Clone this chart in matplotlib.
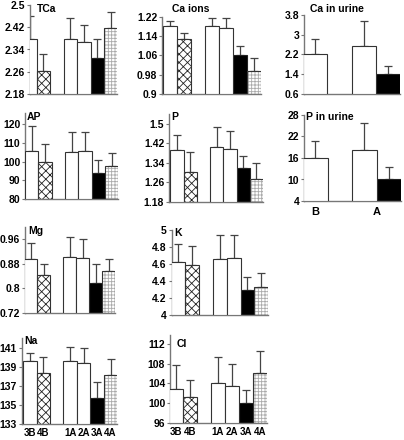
import matplotlib.pyplot as plt
import numpy as np

plt.rcParams['font.family'] = ['Liberation Sans', 'DejaVu Sans']
plt.rcParams['font.weight'] = 'bold'
plt.rcParams['hatch.linewidth'] = 0.6

# Données (moyenne, erreur standard)
groups = ['3B', '4B', '1A', '2A', '3A', '4A']
pos6 = [0, 1, 3, 4, 5, 6]

tca_mean = [2.378, 2.264, 2.377, 2.368, 2.308, 2.416]
tca_se = [0.082, 0.059, 0.077, 0.060, 0.069, 0.058]
caion_mean = [1.183, 1.130, 1.181, 1.176, 1.064, 0.995]
caion_se = [0.020, 0.024, 0.036, 0.041, 0.037, 0.055]
ap_mean = [105.7, 100.0, 105.2, 105.7, 94.1, 97.7]
ap_se = [13.2, 9.5, 10.7, 10.2, 6.6, 6.9]
p_mean = [1.391, 1.304, 1.403, 1.395, 1.318, 1.275]
p_se = [0.062, 0.082, 0.082, 0.077, 0.050, 0.066]
mg_mean = [0.895, 0.845, 0.902, 0.900, 0.817, 0.856]
mg_se = [0.054, 0.034, 0.067, 0.062, 0.062, 0.039]
k_mean = [4.62, 4.59, 4.66, 4.67, 4.29, 4.33]
k_se = [0.22, 0.22, 0.28, 0.27, 0.16, 0.16]
na_mean = [139.6, 138.4, 139.6, 139.4, 135.7, 138.2]
na_se = [0.9, 1.7, 1.5, 1.6, 1.7, 1.6]
cl_mean = [102.9, 101.3, 104.1, 103.5, 100.1, 106.1]
cl_se = [4.8, 3.4, 5.3, 4.5, 2.5, 4.4]

urine_groups = ['B', 'A']
urine_pos = [0, 2, 3]
ca_urine_mean = [2.2, 2.54, 1.39]
ca_urine_se = [0.63, 1.01, 0.35]
p_urine_mean = [16.0, 18.15, 10.0]
p_urine_se = [4.8, 7.75, 3.5]

styles6 = ['white', 'cross', 'white', 'white', 'black', 'dots']
styles3 = ['white', 'white', 'black']

W, H = 404, 440
fig = plt.figure(figsize=(W / 100, H / 100), dpi=100)


def make_ax(l, t, r, b):
    return fig.add_axes([l / W, 1 - b / H, (r - l) / W, (b - t) / H])


def draw(ax, pos, means, ses, styles, ylim, yticks, yticklabels, xlim):
    for x, m, s, st in zip(pos, means, ses, styles):
        if st == 'black':
            ax.bar(x, m - ylim[0], bottom=ylim[0], width=1, color='black',
                   edgecolor='#222', lw=0.8, zorder=2)
        else:
            if st == 'cross':
                ax.bar(x, m - ylim[0], bottom=ylim[0], width=1, color='white',
                       edgecolor='#222', hatch='xxxx', lw=0, zorder=2)
            elif st == 'dots':
                ax.bar(x, m - ylim[0], bottom=ylim[0], width=1, color='white',
                       edgecolor='#aaa', hatch='+++++', lw=0, zorder=2)
            ax.bar(x, m - ylim[0], bottom=ylim[0], width=1, fill=(st == 'white'),
                   facecolor='white', edgecolor='#333', lw=0.8, zorder=3)
        ax.errorbar(x, m, yerr=[[0], [s]], color='#444', lw=0.9, capsize=2.8,
                    capthick=0.9, zorder=1)
    ax.set_ylim(ylim)
    ax.set_xlim(xlim)
    ax.set_yticks(yticks)
    ax.set_yticklabels(yticklabels, fontsize=7.5, fontweight='bold')
    for sp in ['top', 'right']:
        ax.spines[sp].set_visible(False)
    ax.spines['left'].set_color('#777')
    ax.spines['left'].set_linewidth(1.0)
    ax.spines['bottom'].set_color('#777')
    ax.spines['bottom'].set_linewidth(1.0)
    ax.tick_params(axis='y', length=2.5, width=0.8, color='#777', pad=1)
    ax.tick_params(axis='x', length=0, pad=3)
    ax.set_xticks([])
    ax.patch.set_alpha(0)


def title(x, y, s):
    fig.text(x / W, 1 - y / H, s, fontsize=7.5, fontweight='bold', va='top', ha='left')


# Rangée 1
ax = make_ax(30, 5, 117.5, 94)
draw(ax, pos6, tca_mean, tca_se, styles6, (2.18, 2.5),
     [2.18, 2.26, 2.34, 2.42, 2.5], ['2.18', '2.26', '2.34', '2.42', '2.5'], (0, 6.5))
title(37, 4, 'TCa')

ax = make_ax(162, 17, 261, 94)
draw(ax, pos6, caion_mean, caion_se, styles6, (0.9, 1.22),
     [0.9, 0.98, 1.06, 1.14, 1.22], ['0.9', '0.98', '1.06', '1.14', '1.22'], (-0.6, 6.5))
title(172, 4, 'Ca ions')

ax = make_ax(304, 15, 400, 94)
draw(ax, urine_pos, ca_urine_mean, ca_urine_se, styles3, (0.6, 3.8),
     [0.6, 1.4, 2.2, 3.0, 3.8], ['0.6', '1.4', '2.2', '3', '3.8'], (-0.46, 3.5))
title(310, 4, 'Ca in urine')

# Rangée 2
ax = make_ax(25, 113, 118.3, 199)
draw(ax, pos6, ap_mean, ap_se, styles6, (80, 126),
     [80, 90, 100, 110, 120], ['80', '90', '100', '110', '120'], (-0.49, 6.5))
title(27, 112, 'AP')

ax = make_ax(169, 114, 263, 202)
draw(ax, pos6, p_mean, p_se, styles6, (1.18, 1.54),
     [1.18, 1.26, 1.34, 1.42, 1.5], ['1.18', '1.26', '1.34', '1.42', '1.5'], (-0.6, 6.5))
title(171, 112, 'P')

ax = make_ax(304, 115, 401, 201)
draw(ax, urine_pos, p_urine_mean, p_urine_se, styles3, (4, 28),
     [4, 10, 16, 22, 28], ['4', '10', '16', '22', '28'], (-0.46, 3.5))
ax.set_xticks([0, 2.5])
ax.set_xticklabels(urine_groups, fontsize=8, fontweight='bold')
ax.tick_params(axis='x', pad=4)
title(306, 112, 'P in urine')

# Rangée 3
ax = make_ax(25, 227, 115, 313)
draw(ax, pos6, mg_mean, mg_se, styles6, (0.72, 1.0),
     [0.72, 0.8, 0.88, 0.96], ['0.72', '0.8', '0.88', '0.96'], (-0.45, 6.5))
title(28, 226, 'Mg')

ax = make_ax(171.7, 230, 268.3, 315)
draw(ax, pos6, k_mean, k_se, styles6, (4, 5),
     [4, 4.2, 4.4, 4.6, 4.8, 5], ['4', '4.2', '4.4', '4.6', '4.8', '5'], (-0.46, 6.5))
title(174, 228, 'K')

# Rangée 4
ax = make_ax(21.7, 338, 117.3, 424)
draw(ax, pos6, na_mean, na_se, styles6, (133, 142.05),
     [133, 135, 137, 139, 141], ['133', '135', '137', '139', '141'], (-0.6, 6.5))
ax.set_xticks(pos6)
ax.set_xticklabels(groups, fontsize=7, fontweight='bold')
title(24, 336, 'Na')

ax = make_ax(170, 335, 266.7, 423)
draw(ax, pos6, cl_mean, cl_se, styles6, (96, 113.8),
     [96, 100, 104, 108, 112], ['96', '100', '104', '108', '112'], (-0.45, 6.5))
ax.set_xticks(pos6)
ax.set_xticklabels(groups, fontsize=7, fontweight='bold')
title(177, 339, 'Cl')

plt.savefig('out.png', dpi=100)
